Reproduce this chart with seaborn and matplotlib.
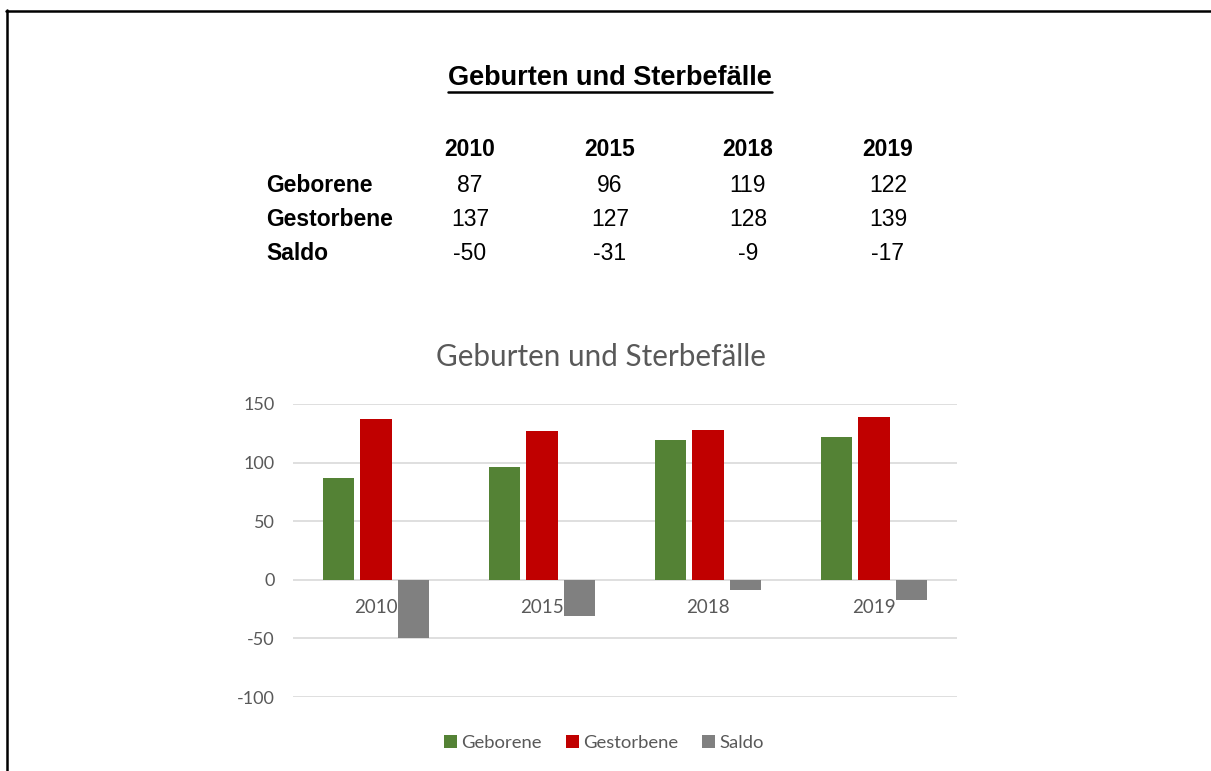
import matplotlib
matplotlib.use("Agg")
import matplotlib.pyplot as plt
import seaborn as sns
import pandas as pd
from matplotlib.lines import Line2D

years = ["2010", "2015", "2018", "2019"]
geborene = [87, 96, 119, 122]
gestorbene = [137, 127, 128, 139]
saldo = [-50, -31, -9, -17]
series_names = ["Geborene", "Gestorbene", "Saldo"]
colors = ["#548235", "#C00000", "#808080"]
title = "Geburten und Sterbefälle"
yticks = [-100, -50, 0, 50, 100, 150]

sns.set_theme(style="white")
plt.rcParams["font.family"] = ["Lato", "DejaVu Sans"]

W, H = 1211, 771
fig = plt.figure(figsize=(W / 100, H / 100), dpi=100)
fig.patch.set_facecolor("white")

def fx(px):
    return px / W

def fy(py):
    return 1 - py / H

# ---- Border of the sheet ----
fig.add_artist(Line2D([fx(6), 1], [fy(10.5), fy(10.5)], color="black", lw=1.8, transform=fig.transFigure))
fig.add_artist(Line2D([fx(6.5), fx(6.5)], [fy(10), 0], color="black", lw=1.8, transform=fig.transFigure))

# ---- Top table ----
tfont = ["Liberation Sans", "DejaVu Sans"]
t = fig.text(fx(610), fy(78), title, ha="center", va="center", fontsize=19.5,
             fontweight="bold", family=tfont, color="black")

col_x = [470, 610, 748, 888]
row_y = [185, 220, 254]
for x, yr in zip(col_x, years):
    fig.text(fx(x), fy(150), yr, ha="center", va="center", fontsize=16.5,
             fontweight="bold", family=tfont, color="black")
rows = [geborene, gestorbene, saldo]
for ry, name, vals in zip(row_y, series_names, rows):
    fig.text(fx(266), fy(ry), name, ha="left", va="center", fontsize=16.5,
             fontweight="bold", family=tfont, color="black")
    for x, v in zip(col_x, vals):
        fig.text(fx(x), fy(ry), str(v), ha="center", va="center", fontsize=16.5,
                 family=tfont, color="black")

# ---- Chart ----
df = pd.DataFrame({
    "Jahr": years * 3,
    "Wert": geborene + gestorbene + saldo,
    "Reihe": [s for s in series_names for _ in years],
})

ax = fig.add_axes([fx(293), fy(697), (957 - 293) / W, (697 - 404) / H])
sns.barplot(data=df, x="Jahr", y="Wert", hue="Reihe", hue_order=series_names,
            palette=colors, width=0.67, gap=0.16, linewidth=0, saturation=1,
            ax=ax, errorbar=None)
ax.set_ylim(-100, 150)
ax.set_xlim(-0.5, len(years) - 0.5)
ax.set_yticks(yticks)
ax.set_yticklabels([str(v) for v in yticks])
ax.yaxis.grid(True, color="#d9d9d9", lw=1.2)
ax.set_axisbelow(True)
for s in ["top", "right", "left"]:
    ax.spines[s].set_visible(False)
ax.spines["bottom"].set_position(("data", 0))
ax.spines["bottom"].set_visible(False)
ax.tick_params(axis="y", length=0, pad=13, labelsize=13, labelcolor="#595959")
ax.tick_params(axis="x", length=0, pad=14, labelsize=13.5, labelcolor="#595959")
ax.set_xlabel("")
ax.set_ylabel("")
ax.set_facecolor("none")

fig.text(fx(601), fy(357), title, ha="center", va="center", fontsize=21.3,
         color="#595959")

handles, labels = ax.get_legend_handles_labels()
if ax.get_legend() is not None:
    ax.get_legend().remove()
fig.legend(handles, labels, loc="center", bbox_to_anchor=(fx(604), fy(743)),
           ncol=3, frameon=False, fontsize=13.3, handlelength=0.7, handleheight=0.7,
           handletextpad=0.25, columnspacing=1.3, labelcolor="#595959")

# underline for the top title
fig.canvas.draw()
bb = t.get_window_extent()
x0, x1 = bb.x0 / W, bb.x1 / W
yline = (bb.y0 - 1) / H
fig.add_artist(Line2D([x0, x1], [yline, yline], color="black", lw=1.8, transform=fig.transFigure))

fig.savefig("out.png", dpi=100, facecolor="white")
